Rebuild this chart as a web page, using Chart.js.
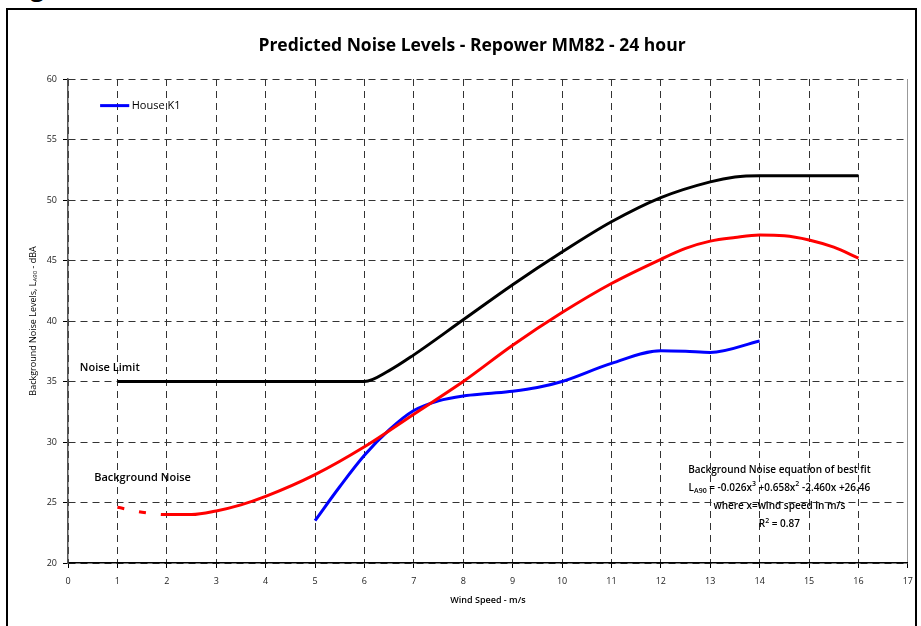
<!DOCTYPE html>
<html>
<head>
<meta charset="utf-8">
<script src="https://cdn.jsdelivr.net/npm/chart.js@4.4.1/dist/chart.umd.min.js"></script>
<style>
html, body { margin: 0; padding: 0; background: #fff; overflow: hidden; }
#wrap { position: relative; width: 921px; height: 626px; }
#frame { position: absolute; left: 6px; top: 8px; width: 911px; height: 660px; border: 2px solid #000; box-sizing: border-box; }
#fig { position: absolute; left: 10px; top: -30px; font: bold 24px 'Open Sans', sans-serif; }
canvas { position: absolute; left: 0; top: 0; }
</style>
</head>
<body>
<div id="wrap">
  <div id="fig">Figure 6</div>
  <div id="frame"></div>
  <canvas id="grafico" width="921" height="626"></canvas>
</div>
<script>
// --- DATOS ---
const FONT = "'Open Sans', sans-serif";
const TITULO = 'Predicted Noise Levels - Repower MM82 - 24 hour';

const xTicks = [0, 1, 2, 3, 4, 5, 6, 7, 8, 9, 10, 11, 12, 13, 14, 15, 16, 17];
const yTicks = [20, 25, 30, 35, 40, 45, 50, 55, 60];

// Noise Limit (black)
const limitX = [1, 2, 3, 4, 5, 6, 6.5, 7, 8, 9, 10, 11, 12, 13, 13.5, 14, 15, 16];
const limitY = [35, 35, 35, 35, 35, 35, 35.9, 37.2, 40.1, 43.0, 45.7, 48.2, 50.2, 51.5, 51.9, 52.0, 52.0, 52.0];

// Background Noise (red)
const bgX = [1, 1.5, 2, 2.5, 3, 3.5, 4, 5, 6, 7, 8, 9, 10, 11, 12, 12.5, 13, 13.5, 14, 14.5, 15, 15.5, 16];
const bgY = [24.6, 24.2, 24.0, 24.0, 24.3, 24.8, 25.5, 27.3, 29.6, 32.3, 35.0, 38.0, 40.7, 43.1, 45.1, 46.0, 46.6, 46.9, 47.1, 47.05, 46.7, 46.1, 45.2];

// House K1 (blue)
const houseX = [5, 5.5, 6, 6.5, 7, 7.5, 8, 8.5, 9, 9.5, 10, 11, 12, 12.5, 13, 14];
const houseY = [23.5, 26.3, 28.9, 31.0, 32.6, 33.4, 33.8, 34.0, 34.2, 34.5, 35.0, 36.5, 37.55, 37.5, 37.4, 38.35];

const equationLines = [
    [['Background Noise equation of best fit', 'n']],
    [['L', 'n'], ['A90', 'sub'], [' = -0.026x', 'n'], ['3', 'sup'], [' +0.658x', 'n'], ['2', 'sup'], [' -2.460x +26.46', 'n']],
    [['where x=wind speed in m/s', 'n']],
    [['R', 'n'], ['2', 'sup'], [' = 0.87', 'n']]
];

const toPoints = (xs, ys) => xs.map((x, i) => ({ x, y: ys[i] }));

// texto con sub/superíndices
function textoRico(ctx, partes, x, y, size, weight, align) {
    const fuente = m => `${weight} ${m === 'n' ? size : Math.round(size * 0.7)}px ${FONT}`;
    const anchos = partes.map(([t, m]) => { ctx.font = fuente(m); return ctx.measureText(t).width; });
    const total = anchos.reduce((a, b) => a + b, 0);
    let cx = align === 'center' ? x - total / 2 : x;
    ctx.textAlign = 'left';
    ctx.textBaseline = 'middle';
    partes.forEach(([t, m], i) => {
        ctx.font = fuente(m);
        const dy = m === 'sub' ? size * 0.3 : (m === 'sup' ? -size * 0.35 : 0);
        ctx.fillText(t, cx, y + dy);
        cx += anchos[i];
    });
}

const etiquetas = {
    id: 'etiquetas',
    afterDraw(chart) {
        const { ctx, scales: { x, y }, chartArea } = chart;
        ctx.save();
        ctx.fillStyle = '#000';

        // título (centrado como en el original, algo a la izquierda del área)
        textoRico(ctx, [[TITULO, 'n']], 472, 46, 17.5, 'bold', 'center');

        // leyenda
        ctx.strokeStyle = '#0000ff';
        ctx.lineWidth = 3;
        ctx.beginPath();
        ctx.moveTo(x.getPixelForValue(0.65), y.getPixelForValue(57.8));
        ctx.lineTo(x.getPixelForValue(1.24), y.getPixelForValue(57.8));
        ctx.stroke();
        textoRico(ctx, [['House K1', 'n']], x.getPixelForValue(1.29), y.getPixelForValue(57.8), 11, 'normal', 'left');

        textoRico(ctx, [['Noise Limit', 'n']], x.getPixelForValue(0.24), y.getPixelForValue(36.1), 11, '600', 'left');
        textoRico(ctx, [['Background Noise', 'n']], x.getPixelForValue(0.53), y.getPixelForValue(27.05), 11, '600', 'left');

        const ecY = [27.7, 26.2, 24.7, 23.2];
        equationLines.forEach((linea, i) => {
            textoRico(ctx, linea, x.getPixelForValue(14.4), y.getPixelForValue(ecY[i]), 10, '600', 'center');
        });

        // título del eje Y
        ctx.translate(33, (chartArea.top + chartArea.bottom) / 2);
        ctx.rotate(-Math.PI / 2);
        textoRico(ctx, [['Background Noise Levels, L', 'n'], ['A90', 'sub'], [' - dBA', 'n']], 0, 0, 9, 'normal', 'center');
        ctx.restore();
    }
};

const gridComun = {
    color: ctx => (ctx.tick && ctx.tick.value === 17) ? '#999' : '#333',
    lineWidth: 1,
    tickLength: 5,
    tickColor: '#000',
    tickBorderDash: []
};
const dashComun = ctx => (ctx.tick && ctx.tick.value === 17) ? [] : [7, 5];

new Chart(document.getElementById('grafico'), {
    type: 'scatter',
    data: {
        datasets: [
            {
                label: 'Noise Limit',
                data: toPoints(limitX, limitY),
                showLine: true,
                borderColor: '#000000',
                borderWidth: 3,
                pointRadius: 0,
                cubicInterpolationMode: 'monotone'
            },
            {
                label: 'Background Noise',
                data: toPoints(bgX, bgY),
                showLine: true,
                borderColor: '#ff0000',
                borderWidth: 3,
                pointRadius: 0,
                cubicInterpolationMode: 'monotone',
                segment: { borderDash: c => c.p0.parsed.x < 2 ? [7, 15] : undefined }
            },
            {
                label: 'House K1',
                data: toPoints(houseX, houseY),
                showLine: true,
                borderColor: '#0000ff',
                borderWidth: 3,
                pointRadius: 0,
                cubicInterpolationMode: 'monotone'
            }
        ]
    },
    options: {
        responsive: false,
        animation: false,
        layout: { padding: { left: 0, right: 13, top: 79, bottom: 0 } },
        plugins: {
            legend: { display: false },
            tooltip: { enabled: false },
            title: { display: false }
        },
        scales: {
            x: {
                type: 'linear',
                min: xTicks[0],
                max: xTicks[xTicks.length - 1],
                afterBuildTicks: s => { s.ticks = xTicks.map(v => ({ value: v })); },
                afterFit: s => { s.height = 63; },
                ticks: { autoSkip: false, color: '#222', font: { family: FONT, size: 9 }, padding: 8, maxRotation: 0 },
                grid: gridComun,
                border: { display: true, color: '#000', width: 1.5, dash: dashComun },
                title: {
                    display: true,
                    text: 'Wind Speed - m/s',
                    color: '#000',
                    font: { family: FONT, size: 9, weight: '600' },
                    padding: { top: 0, bottom: 20 }
                }
            },
            y: {
                min: yTicks[0],
                max: yTicks[yTicks.length - 1],
                afterBuildTicks: s => { s.ticks = yTicks.map(v => ({ value: v })); },
                afterFit: s => { s.width = 68; },
                ticks: { color: '#222', font: { family: FONT, size: 9 }, padding: 6 },
                grid: gridComun,
                border: { display: true, color: '#555', width: 1.5, dash: dashComun }
            }
        }
    },
    plugins: [etiquetas]
});
</script>
</body>
</html>
